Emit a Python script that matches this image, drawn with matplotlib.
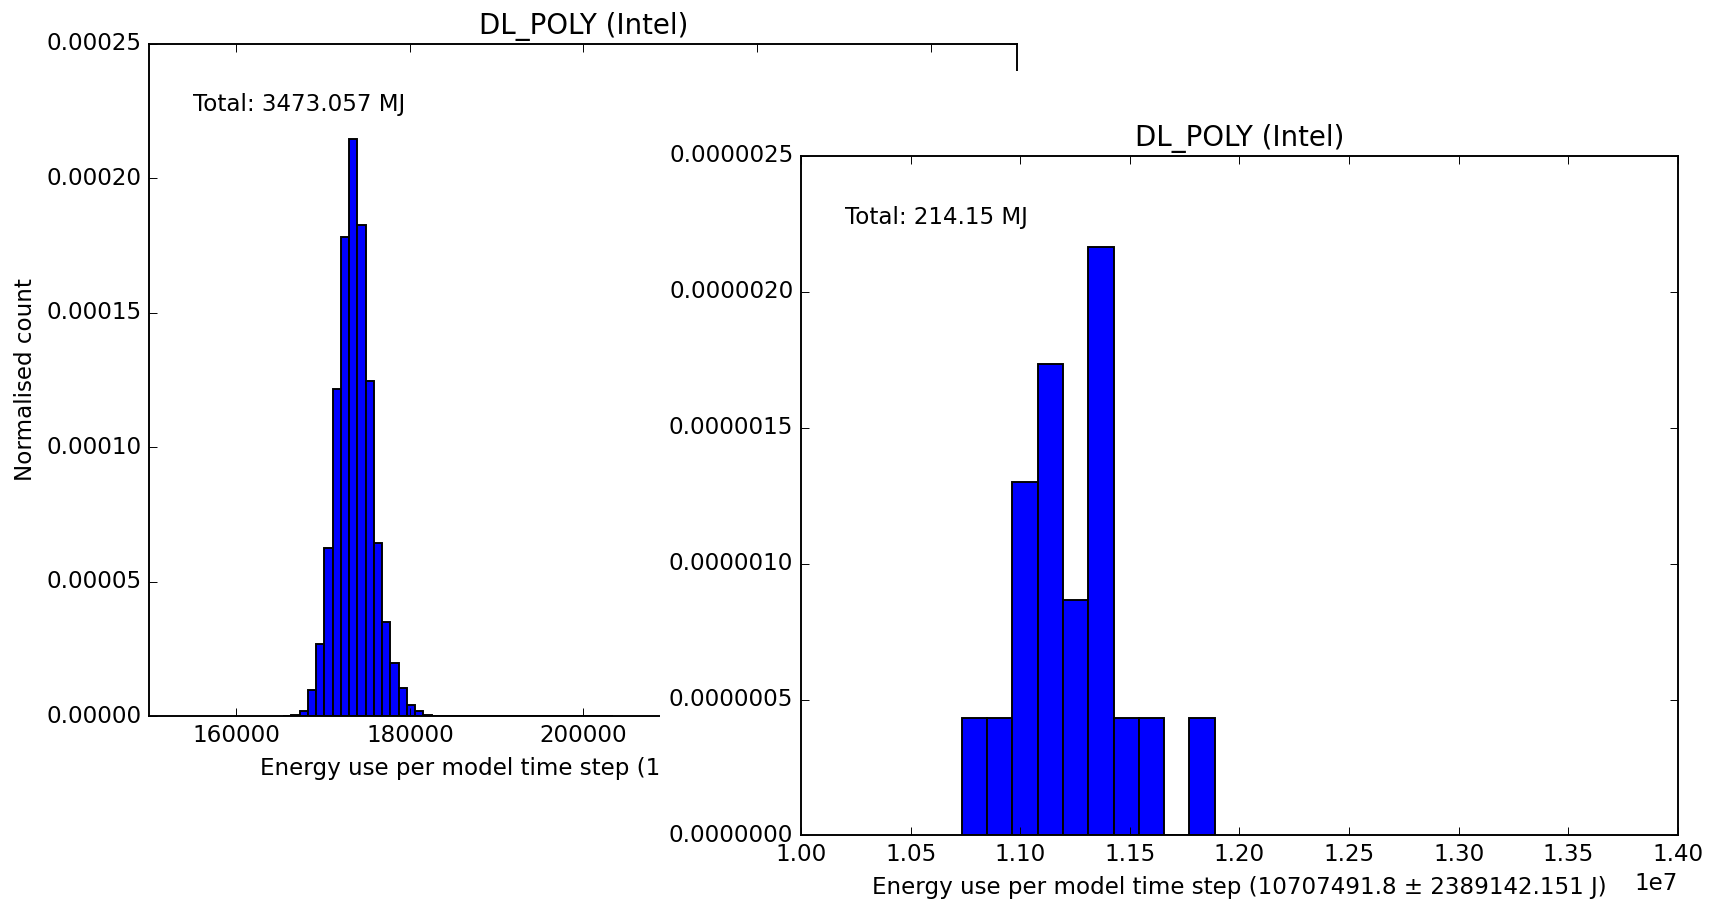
import matplotlib
matplotlib.use("Agg")
import matplotlib.pyplot as plt
from matplotlib.patches import Rectangle
from matplotlib.ticker import MultipleLocator, FormatStrFormatter
import numpy as np

plt.style.use("classic")

# Left histogram: DL_POLY (Intel), 20000 time steps
title = "DL_POLY (Intel)"
left_total = "Total: 3473.057 MJ"
left_xlabel = "Energy use per model time step (173652.9 \u00b1 938.417 J)"
left_bin_start = 165400
left_bin_width = 950
left_density = [3e-7, 7e-7, 2.2e-6, 1.0e-5, 2.7e-5, 6.25e-5, 1.215e-4, 1.78e-4,
                2.145e-4, 1.825e-4, 1.245e-4, 6.45e-5, 3.5e-5, 2.0e-5, 1.07e-5,
                4.4e-6, 2.2e-6, 4e-7, 0, 0, 0, 0, 0, 0, 0, 3.5e-7, 0, 0, 0, 0, 0,
                3.5e-7, 3.5e-7, 3.5e-7, 3.5e-7, 0, 0, 0, 0, 0]

# Right histogram: 20 time steps
right_total = "Total: 214.15 MJ"
right_xlabel = "Energy use per model time step (10707491.8 \u00b1 2389142.151 J)"
right_n = 20
right_bin_start = 10733000
right_bin_width = 115400
right_counts = [1, 1, 3, 4, 2, 5, 1, 1, 0, 1]

dpi = 138
fig = plt.figure(figsize=(1710 / dpi, 900 / dpi), dpi=dpi, facecolor="white")

# ---- left panel
ax1 = fig.add_axes([0.0874, 0.2039, 0.5076, 0.7477])
ax1.set_zorder(0)
edges1 = left_bin_start + left_bin_width * np.arange(len(left_density))
ax1.bar(edges1, left_density, width=left_bin_width, align="edge",
        color="b", edgecolor="k", linewidth=1.0)
ax1.set_xlim(150000, 250000)
ax1.set_ylim(0, 0.00025)
ax1.xaxis.set_major_locator(MultipleLocator(20000))
ax1.yaxis.set_major_locator(MultipleLocator(0.00005))
ax1.yaxis.set_major_formatter(FormatStrFormatter("%.5f"))
ax1.set_title(title)
ax1.set_xlabel(left_xlabel)
ax1.set_ylabel("Normalised count")
ax1.text(0.05, 0.9, left_total, transform=ax1.transAxes)

# white sheet: the second plot is laid over the first
cover = Rectangle((660 / 1710, 0), 1 - 660 / 1710, 1 - 71 / 900,
                  transform=fig.transFigure, facecolor="white",
                  edgecolor="none", zorder=1)
fig.patches.append(cover)

# ---- right panel
ax2 = fig.add_axes([0.4684, 0.0717, 0.5129, 0.7550])
ax2.set_zorder(2)
edges2 = right_bin_start + right_bin_width * np.arange(len(right_counts))
density2 = np.array(right_counts) / (right_n * right_bin_width)
ax2.bar(edges2, density2, width=right_bin_width, align="edge",
        color="b", edgecolor="k", linewidth=1.0)
ax2.set_xlim(1.0e7, 1.4e7)
ax2.set_ylim(0, 0.0000025)
ax2.xaxis.set_major_locator(MultipleLocator(0.05e7))
ax2.yaxis.set_major_locator(MultipleLocator(0.0000005))
ax2.yaxis.set_major_formatter(FormatStrFormatter("%.7f"))
ax2.set_title(title)
ax2.set_xlabel(right_xlabel)
ax2.text(0.05, 0.9, right_total, transform=ax2.transAxes)

fig.savefig("out.png", dpi=dpi, facecolor="white")
